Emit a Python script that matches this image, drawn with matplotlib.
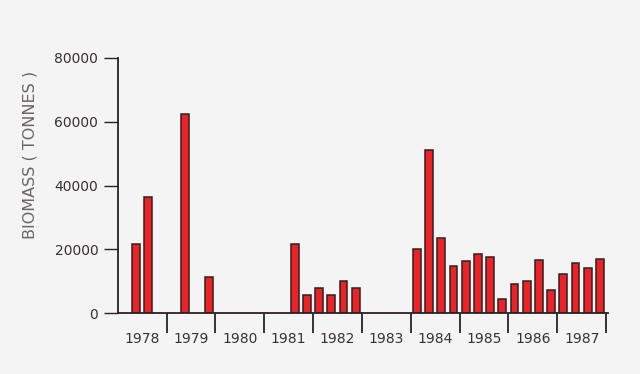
import matplotlib
matplotlib.use('Agg')
import matplotlib.pyplot as plt
import numpy as np

BG = '#f4f4f4'
RED = '#ec2227'
EDGE = '#2a2222'
TXT = '#3a3030'

years = [1978, 1979, 1980, 1981, 1982, 1983, 1984, 1985, 1986, 1987]
# quarterly biomass (tonnes), four values per year, 0 = no survey
biomass = [
    0, 21600, 36300, 0,        # 1978
    0, 62400, 0, 11400,        # 1979
    0, 0, 0, 0,                # 1980
    0, 0, 21800, 5600,         # 1981
    7700, 5600, 10200, 7700,   # 1982
    0, 0, 0, 0,                # 1983
    20200, 51100, 23600, 14600,  # 1984
    16300, 18400, 17500, 4500,   # 1985
    9200, 9900, 16500, 7100,     # 1986
    12100, 15800, 14100, 17100,  # 1987
]

fig = plt.figure(figsize=(6.4, 3.74), dpi=100)
fig.patch.set_facecolor(BG)
ax = fig.add_axes([0.184, 0.163, 0.766, 0.682])
ax.set_facecolor(BG)

vals = np.array(biomass, dtype=float)
xpos = np.repeat(years, 4) + (np.tile(np.arange(4), len(years)) + 0.5) / 4
mask = vals > 0
ax.bar(xpos[mask], vals[mask], width=0.16, color=RED, edgecolor=EDGE, linewidth=1.1)

ax.set_xlim(1978, 1988.04)
ax.set_ylim(0, 80000)

for s in ['top', 'right']:
    ax.spines[s].set_visible(False)
for s in ['left', 'bottom']:
    ax.spines[s].set_color(EDGE)
    ax.spines[s].set_linewidth(1.3)

ax.set_yticks([0, 20000, 40000, 60000, 80000])
ax.tick_params(axis='y', direction='out', length=10, width=1, color=EDGE,
               labelsize=10, labelcolor=TXT, pad=4)

# year boundaries as long ticks, labels centred in each year
ax.set_xticks(np.arange(1979, 1989))
ax.set_xticklabels([])
ax.set_xticks(np.array(years) + 0.5, minor=True)
ax.set_xticklabels([str(y) for y in years], minor=True)
ax.tick_params(axis='x', which='major', direction='out', length=14.5, width=1.3, color=EDGE)
ax.tick_params(axis='x', which='minor', length=0, labelsize=10, labelcolor=TXT, pad=14)

ax.set_ylabel('BIOMASS ( TONNES )', fontsize=11.5, color='#6a6464')
ax.yaxis.set_label_coords(-0.164, 0.62)

plt.savefig('out.png', dpi=100, facecolor=BG)
plt.close()
